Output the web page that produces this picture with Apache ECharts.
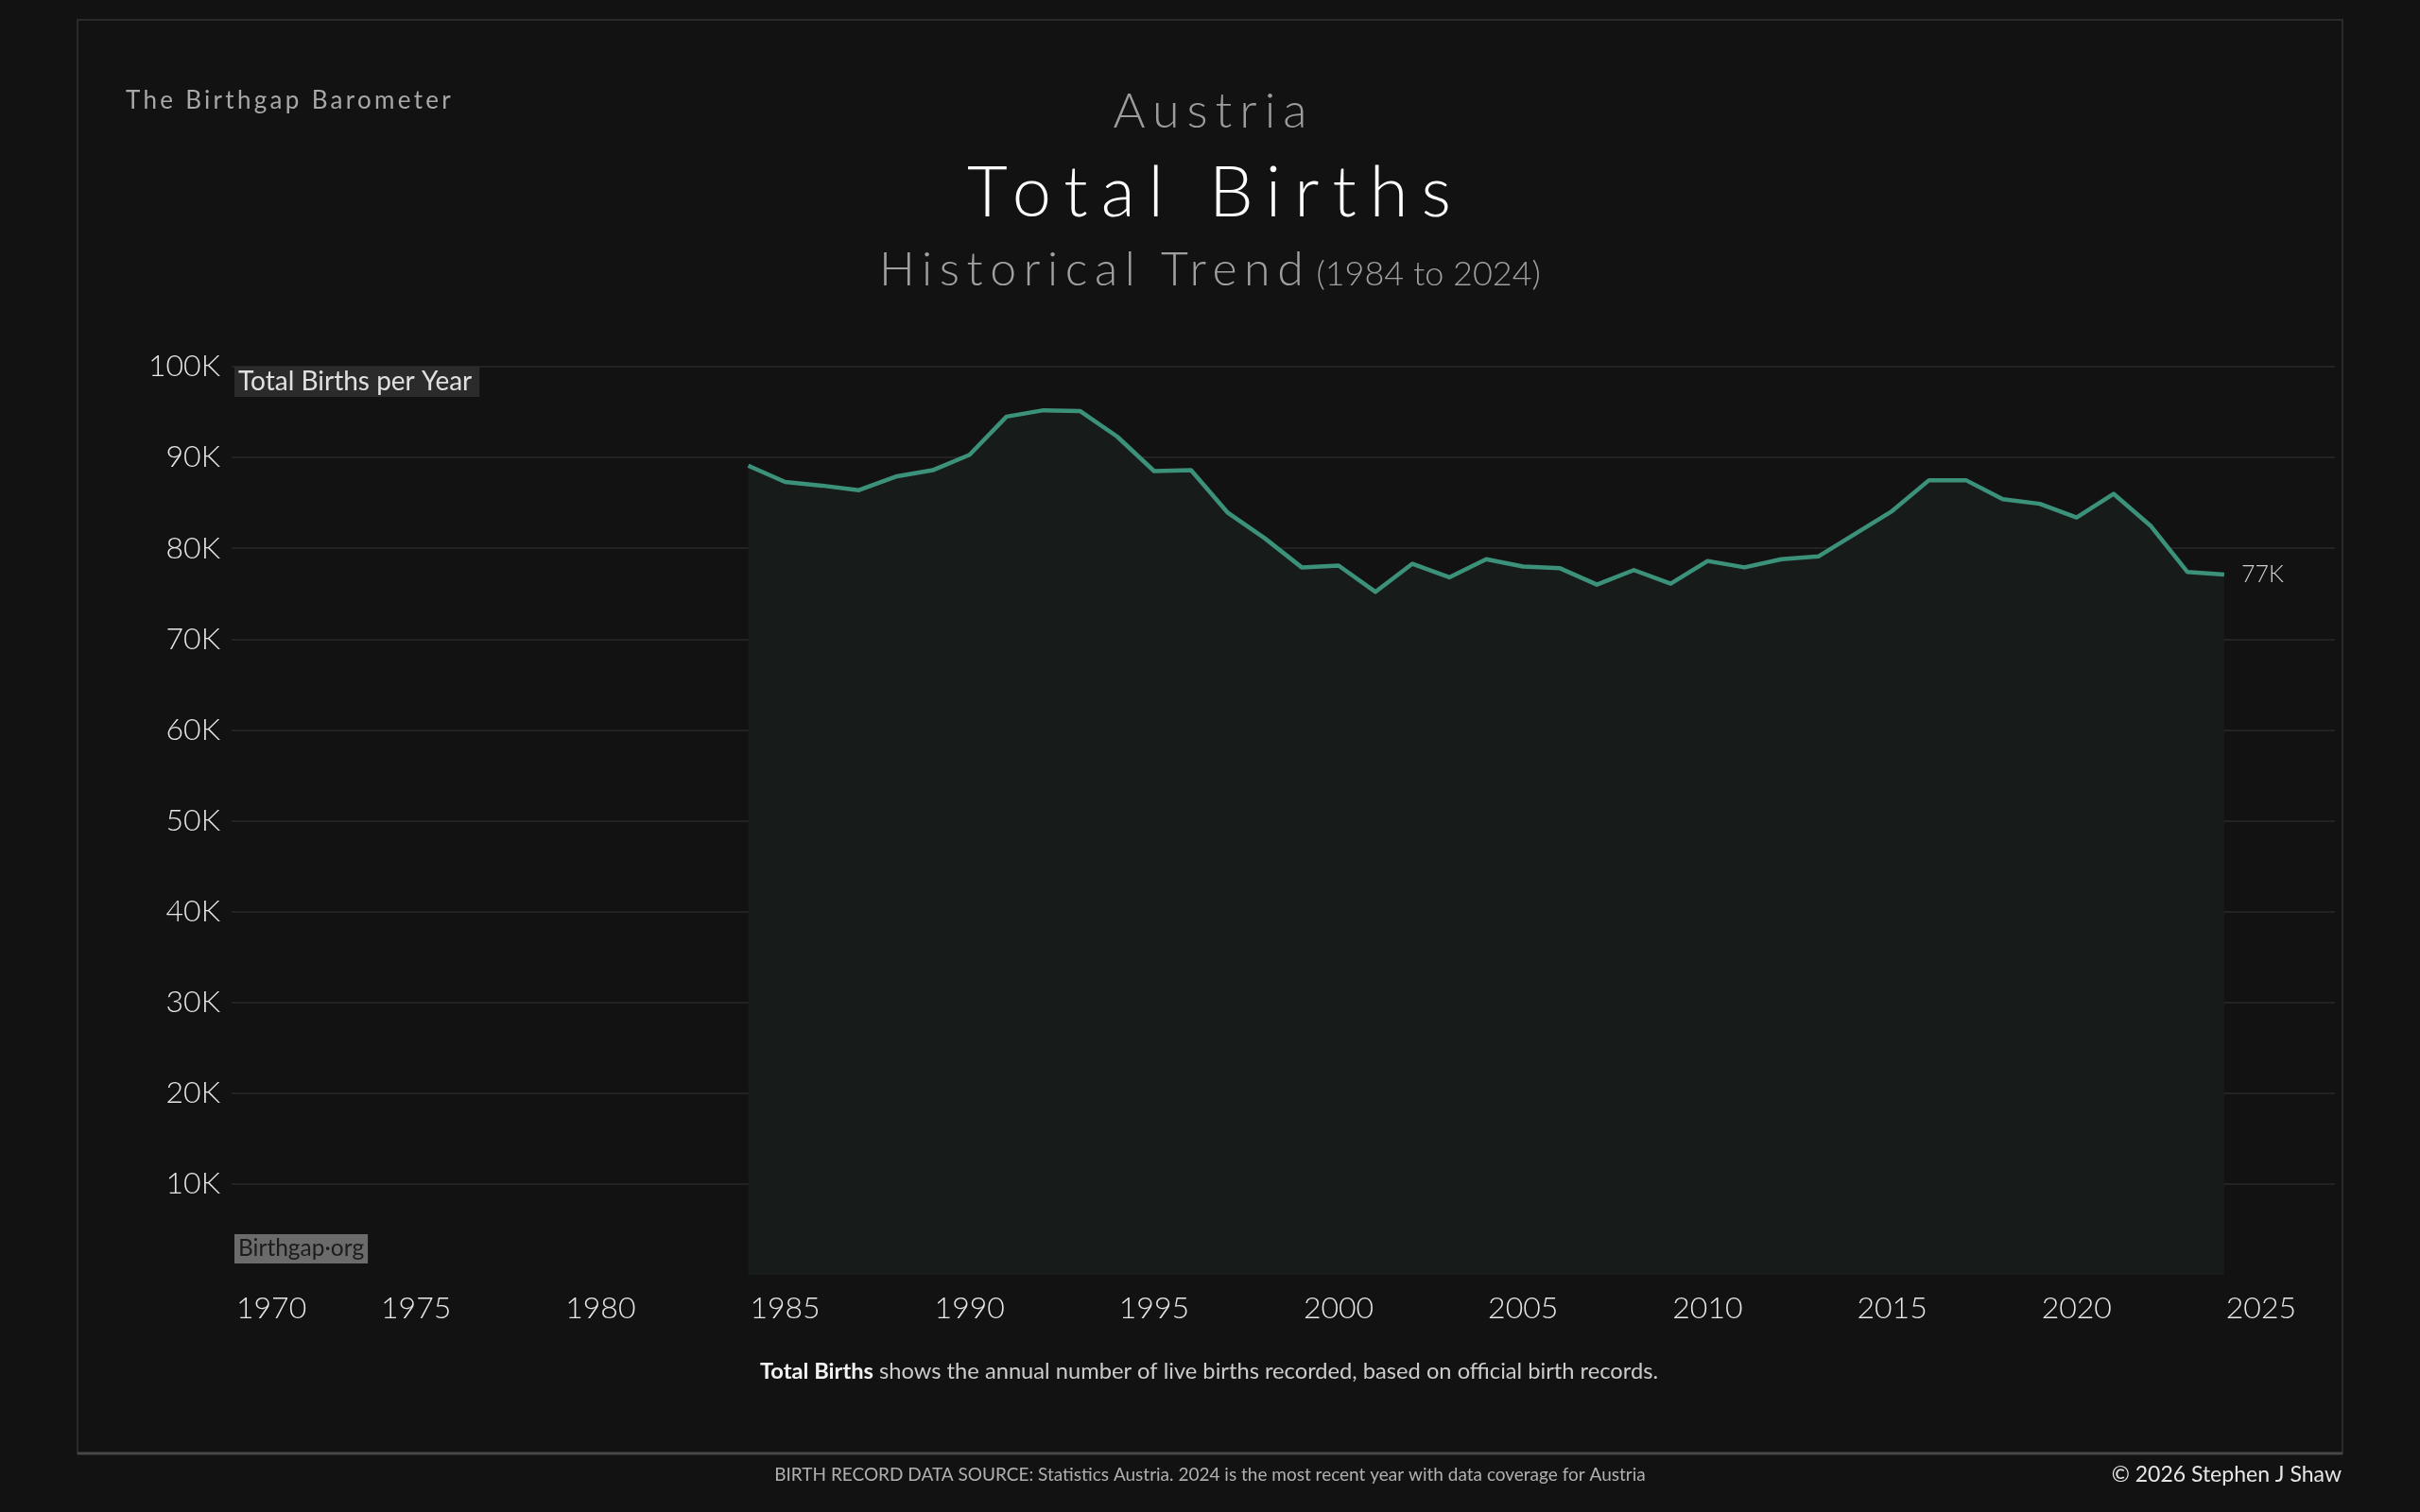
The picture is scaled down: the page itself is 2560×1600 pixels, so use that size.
<!DOCTYPE html>
<html>
<head>
<meta charset="utf-8">
<script src="https://cdn.jsdelivr.net/npm/echarts@6/dist/echarts.min.js"></script>
<style>
  html, body { margin: 0; padding: 0; background: #121212; }
  #wrap { position: relative; width: 2560px; height: 1600px; overflow: hidden; }
  #chart { position: absolute; left: 0; top: 0; width: 2560px; height: 1600px; }
  .hdr { position: absolute; font-family: Lato, "Open Sans", sans-serif; font-weight: 300; line-height: 1; white-space: nowrap; }
</style>
</head>
<body>
<div id="wrap">
  <div id="chart"></div>
  <div class="hdr" id="brand" style="left:133px; top:92px; font-size:26px; letter-spacing:3.3px; color:#a8a8a8; font-weight:400;">The Birthgap Barometer</div>
  <div class="hdr" id="country" style="left:0; width:2560px; text-align:center; top:89px; font-size:52px; letter-spacing:8px; padding-left:8px; box-sizing:border-box; color:#9c9c9c;">Austria</div>
  <div class="hdr" id="title" style="left:0; width:2560px; text-align:center; top:164px; font-size:74px; letter-spacing:14px; padding-left:12px; box-sizing:border-box; color:#ffffff;">Total Births</div>
  <div class="hdr" id="subtitle" style="left:0; width:2560px; text-align:center; top:258px; color:#a0a0a0;"><span style="font-size:50px; letter-spacing:7.6px;">Historical Trend</span><span style="font-size:36px; margin-left:6px;">(1984 to 2024)</span></div>
</div>
<script>
// ---- data ----
const years = [1984, 1985, 1986, 1987, 1988, 1989, 1990, 1991, 1992, 1993,
               1994, 1995, 1996, 1997, 1998, 1999, 2000, 2001, 2002, 2003,
               2004, 2005, 2006, 2007, 2008, 2009, 2010, 2011, 2012, 2013,
               2014, 2015, 2016, 2017, 2018, 2019, 2020, 2021, 2022, 2023, 2024];
const births = [89100, 87300, 86900, 86400, 87900, 88600, 90300, 94500, 95200, 95100,
                92300, 88500, 88600, 83900, 81100, 77900, 78100, 75200, 78300, 76800,
                78800, 78000, 77800, 76000, 77600, 76100, 78600, 77900, 78800, 79100,
                81600, 84100, 87500, 87500, 85400, 84900, 83400, 86000, 82500, 77400, 77100];
const xAxisRange = [1970, 2027];
const xTickStep = 5;
const yAxisRange = [0, 100000];
const yTickStep = 10000;
const yAxisTitle = 'Total Births per Year';
const watermark = 'Birthgap·org';
const captionBold = 'Total Births';
const captionRest = ' shows the annual number of live births recorded, based on official birth records.';
const sourceNote = 'BIRTH RECORD DATA SOURCE: Statistics Austria. 2024 is the most recent year with data coverage for Austria';
const copyright = '© 2026 Stephen J Shaw';

const FONT = 'Lato, "Open Sans", sans-serif';
const seriesData = years.map((y, i) => [y, births[i]]);
const axisFont = { color: '#e6e6e6', fontFamily: FONT, fontWeight: 300, fontSize: 32 };

const chart = echarts.init(document.getElementById('chart'), null, { renderer: 'canvas', width: 2560, height: 1600 });

chart.setOption({
  backgroundColor: '#121212',
  animation: false,
  grid: { left: 245, right: 90, top: 388, bottom: 251, containLabel: false },
  xAxis: {
    type: 'value',
    min: xAxisRange[0],
    max: xAxisRange[1],
    interval: xTickStep,
    axisLine: { show: false },
    axisTick: { show: false },
    splitLine: { show: false },
    axisLabel: Object.assign({}, axisFont, {
      margin: 20,
      alignMinLabel: 'left',
      formatter: v => (v % xTickStep !== 0 ? '' : (v === xAxisRange[0] ? '{m|' + v + '}' : String(v))),
      rich: { m: Object.assign({}, axisFont, { padding: [0, 0, 0, 5] }) }
    })
  },
  yAxis: {
    type: 'value',
    min: yAxisRange[0],
    max: yAxisRange[1],
    interval: yTickStep,
    axisLine: { show: false },
    axisTick: { show: false },
    splitLine: { show: true, showMinLine: false, lineStyle: { color: '#232323', width: 2 } },
    axisLabel: Object.assign({}, axisFont, {
      margin: 12,
      formatter: v => (v === 0 ? '' : (v / 1000) + 'K')
    })
  },
  series: [{
    type: 'line',
    data: seriesData,
    showSymbol: false,
    symbol: 'none',
    lineStyle: { color: '#3b9179', width: 4.5, join: 'round' },
    itemStyle: { color: '#3b9179' },
    areaStyle: { color: '#171c1b', opacity: 1 },
    endLabel: {
      show: true,
      distance: 18,
      color: '#cfcfcf',
      fontFamily: FONT,
      fontWeight: 300,
      fontSize: 25,
      formatter: p => Math.round(p.value[1] / 1000) + 'K'
    },
    z: 3
  }],
  graphic: [
    { type: 'rect', silent: true, z: -1,
      shape: { x: 82, y: 21, width: 2396, height: 1517 },
      style: { fill: null, stroke: '#2a2a2a', lineWidth: 2 } },
    { type: 'line', silent: true,
      shape: { x1: 82, y1: 1538, x2: 2478, y2: 1538 },
      style: { stroke: '#474747', lineWidth: 3 } },
    { type: 'text', silent: true, x: 248, y: 388, z: 10,
      style: { text: yAxisTitle, fill: '#e0e0e0', font: '400 28px ' + FONT,
               backgroundColor: '#2b2b2b', padding: [2, 8, 2, 4], verticalAlign: 'top' } },
    { type: 'text', silent: true, x: 248, y: 1306, z: 10,
      style: { text: watermark, fill: '#1c1c1c', font: '400 24.5px ' + FONT,
               backgroundColor: '#6b6b6b', padding: [3, 4, 3, 4], verticalAlign: 'top' } },
    { type: 'text', silent: true, x: 1279, y: 1451,
      style: { text: '{b|' + captionBold + '}{r|' + captionRest + '}', align: 'center', verticalAlign: 'middle',
               rich: {
                 b: { fill: '#f2f2f2', fontFamily: FONT, fontWeight: 700, fontSize: 23.7 },
                 r: { fill: '#cccccc', fontFamily: FONT, fontWeight: 400, fontSize: 23.7 }
               } } },
    { type: 'text', silent: true, x: 1280, y: 1561,
      style: { text: sourceNote, fill: '#b0b0b0', font: '400 19px ' + FONT, align: 'center', verticalAlign: 'middle' } },
    { type: 'text', silent: true, x: 2477, y: 1561,
      style: { text: copyright, fill: '#e6e6e6', font: '400 23px ' + FONT, align: 'right', verticalAlign: 'middle' } }
  ]
});
</script>
</body>
</html>
